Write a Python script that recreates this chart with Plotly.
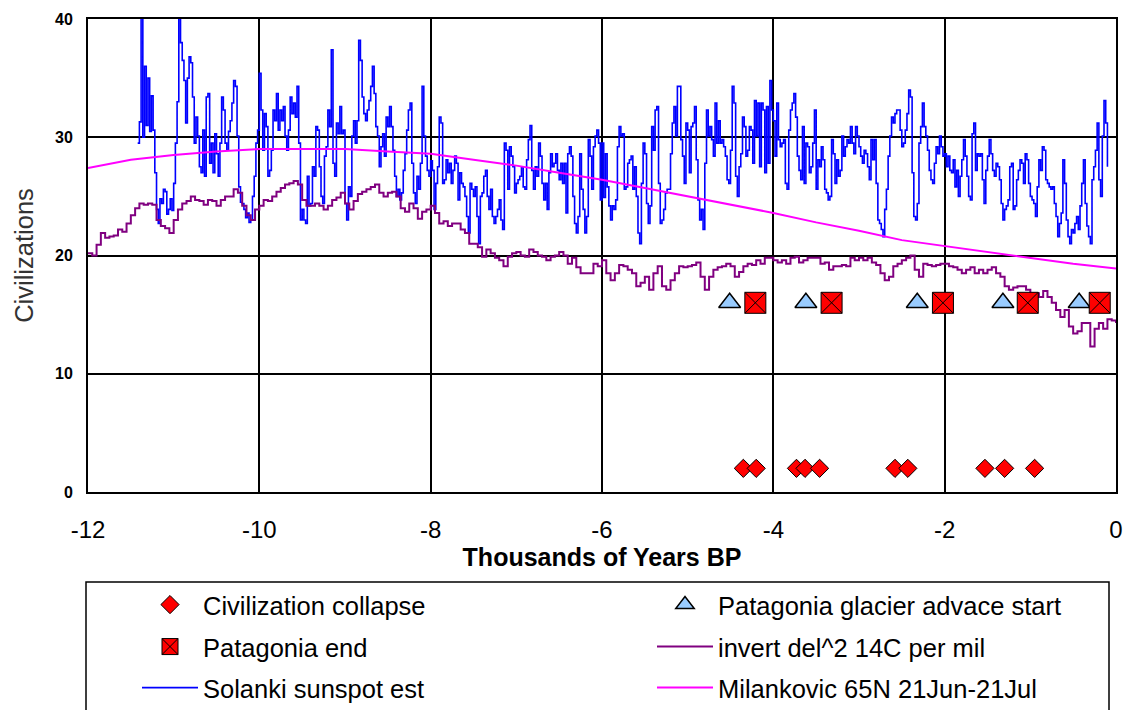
import plotly.graph_objects as go

# ---------------- data ----------------
# Solanki sunspot estimate (20-year spacing, thousands of years BP)
solanki_start = -11.42
solanki_step = 0.02
solanki_values = [
    29.5, 31.3, 40.5, 30.0, 36.0, 31.0, 35.0, 30.5, 33.5, 30.6,
    27.0, 23.9, 22.7, 24.8, 24.4, 25.6, 25.4, 23.5, 23.9, 24.8,
    23.8, 26.1, 29.5, 33.0, 40.6, 38.0, 36.5, 34.8, 31.2, 35.0,
    36.8, 36.3, 33.4, 29.5, 31.7, 30.1, 27.5, 27.0, 30.6, 26.7,
    33.4, 33.7, 27.8, 29.5, 27.0, 30.3, 28.6, 26.7, 29.5, 33.4,
    32.3, 29.5, 28.9, 30.5, 31.4, 32.9, 34.8, 34.3, 30.1, 25.8,
    24.5, 24.4, 23.9, 23.2, 23.6, 22.8, 23.0, 25.0, 26.7, 29.5,
    30.6,
    35.4, 32.3, 28.9, 32.0, 30.9, 26.7, 27.2, 28.9, 32.3, 31.4,
    33.7, 30.6, 32.3, 31.4, 32.6, 30.1, 28.9, 30.6, 33.4, 32.0,
    32.9, 31.7, 34.3, 29.5, 23.0, 23.9, 23.0, 22.7, 26.7, 24.2,
    24.4, 27.5, 26.7, 30.9, 30.6, 27.5, 25.0, 24.4, 28.4, 29.2,
    32.3, 30.9, 37.4, 27.8, 26.7, 31.2, 30.3, 32.6, 30.3, 30.6,
    24.4, 23.0, 25.8, 25.0, 30.1, 31.4, 29.5, 31.4, 38.2, 36.5,
    33.4, 32.0, 31.4, 32.3, 33.1, 34.3, 36.0, 33.7, 30.9, 30.1,
    27.5, 29.2, 30.3, 28.4, 31.7, 30.9, 32.6, 30.9, 28.9, 26.7,
    25.0, 25.6, 24.7, 25.3, 27.2, 28.6, 30.6, 32.3, 32.9, 27.8,
    25.3, 24.4, 26.7, 25.6, 27.8, 34.3, 30.1, 28.4, 27.2, 26.7,
    28.0, 27.2, 23.9, 26.1, 27.5, 31.7, 31.2, 26.1, 26.4, 28.1,
    27.0, 27.8, 26.1, 27.2, 28.4, 27.8, 24.7, 27.0, 26.1, 25.8,
    25.0, 23.3, 21.9, 26.1, 25.6, 25.0, 25.8, 23.3, 21.0, 25.0,
    25.3, 26.7, 27.2, 25.0, 23.9, 25.6, 23.3, 22.7, 23.3, 23.9,
    24.7, 23.0, 22.2, 29.5, 28.9, 25.6, 29.2, 28.4, 27.5, 25.3,
    26.1, 26.4, 26.7, 27.5, 25.8, 25.6, 28.1, 29.8, 31.0, 27.2,
    25.6, 27.5, 26.7, 29.5, 28.4, 26.1, 24.7, 26.1, 23.9, 27.0,
    28.6, 27.5, 27.8, 28.6, 27.2, 26.4, 27.8, 26.1, 27.8, 23.6,
    28.6, 29.2, 28.4, 25.0, 22.7, 21.9, 23.3, 28.6, 25.6, 23.9,
    21.9, 23.3, 29.8, 28.4, 25.6, 29.2, 30.1, 30.6, 29.5, 24.7,
    29.5, 24.9, 28.6, 25.8, 24.2, 23.0, 24.2, 23.9, 24.7, 29.2,
    30.9, 30.1, 30.3, 25.6, 25.8, 27.8, 28.1, 28.4, 25.6, 27.5,
    25.0, 21.9, 21.0, 26.1, 29.5, 28.6, 24.4, 22.7, 24.2, 30.9,
    28.9, 32.3, 32.6, 26.1, 22.7, 23.0, 23.9, 25.3, 25.6, 25.6,
    28.6, 31.2, 32.6, 30.1, 34.3, 34.3, 29.8, 28.4, 26.1, 31.2,
    30.6, 27.0, 30.9, 31.2, 32.6, 28.1, 24.7, 23.0, 23.9, 22.2,
    27.8, 32.3, 30.1, 30.9, 29.8, 28.4, 32.9, 29.5, 31.4, 29.5,
    29.8, 29.2, 28.4, 26.4, 26.1, 28.9, 34.3, 32.9, 26.7, 25.0,
    27.5, 28.6, 31.7, 30.9, 28.4, 28.9, 30.9, 30.6, 27.8, 33.1,
    30.1, 32.9, 27.5, 32.9, 32.3, 27.0, 32.6, 27.8, 34.8, 32.3,
    31.4, 28.4, 32.9, 29.8, 29.2, 29.5, 29.8, 26.1, 25.6, 30.6,
    32.3, 32.9, 33.7, 31.7, 28.4, 27.2, 26.4, 30.9, 26.1, 29.5,
    29.2, 27.0, 27.5, 29.5, 32.3, 25.6, 28.1, 27.5, 29.2, 28.1,
    25.6, 25.3, 24.7, 25.0, 29.8, 28.6, 26.1, 28.1, 26.7, 27.2,
    30.1, 28.4, 29.2, 29.8, 29.5, 30.9, 29.5, 28.6, 30.9, 30.1,
    29.2, 28.4, 27.8, 28.9, 28.6, 27.5, 26.4, 29.8, 28.1, 29.8,
    26.1, 23.0, 22.7, 22.2, 21.6, 23.9, 25.6, 28.4, 30.1, 31.7,
    31.2, 32.0, 32.3, 32.3, 30.6, 29.2, 29.5, 30.6, 32.0, 34.0,
    33.4, 27.0, 23.3, 23.0, 24.4, 29.5, 30.9, 32.9, 30.9, 30.1,
    28.9, 27.2, 26.4, 26.1, 27.8, 29.2, 28.6, 30.1, 29.2, 28.4,
    28.6, 27.5, 28.4, 27.2, 27.0, 28.1, 25.8, 27.2, 25.0, 26.7,
    28.1, 29.8, 28.4, 26.7, 25.0, 24.7, 30.3, 31.2, 27.2, 28.6,
    28.4, 28.6, 26.4, 24.4, 27.2, 28.4, 29.8, 28.6, 27.2, 26.7,
    27.8, 27.5, 26.4, 24.4, 23.0, 23.9, 24.2, 24.7, 27.5, 27.8,
    23.9, 24.2, 26.4, 27.2, 28.1, 27.8, 26.1, 28.6, 28.1, 26.1,
    25.0, 24.7, 24.4, 23.3, 25.8, 28.1, 27.2, 29.2, 28.9, 26.4,
    26.1, 25.8, 25.6, 25.8, 24.4, 23.3, 21.6, 22.7, 23.6, 28.1,
    26.1, 23.0, 21.6, 21.0, 22.2, 21.9, 22.7, 23.3, 22.2, 24.2,
    26.1, 28.1, 24.4, 22.5, 21.6, 21.0, 26.4, 27.5, 28.9, 31.2,
    26.4, 25.0, 30.1, 33.1, 31.2, 27.5,
]
solanki_years = [solanki_start + solanki_step * i for i in range(len(solanki_values))]

# invert del^2 14C per mil (50-year spacing)
c14_start = -12.0
c14_step = 0.05
c14_values = [
    20.2, 20.0, 20.9, 21.9, 21.5, 21.6, 21.7, 22.2, 22.0, 22.7,
    23.4, 24.0, 24.4, 24.3, 24.4, 24.3, 23.0, 22.5, 22.3, 21.9,
    23.0, 23.9, 24.4, 24.6, 25.0, 24.7, 24.6, 24.3, 24.7, 24.6,
    24.2, 24.7, 25.0, 25.0, 25.6, 25.3, 24.2, 23.4, 23.0, 23.9,
    24.2, 24.7, 24.6, 25.0, 25.4, 25.7, 26.0, 26.1, 26.3, 26.0,
    24.7, 24.2, 24.2, 24.4, 24.2, 23.9, 24.2, 24.7, 24.9, 25.3,
    24.4, 23.9, 24.6, 25.2, 25.4, 25.6, 25.8, 26.0, 25.3, 25.0,
    25.3, 25.4, 25.0, 24.0, 23.7, 24.4, 24.0, 23.1, 23.7, 23.9,
    24.2, 23.6, 22.7, 22.9, 22.5, 22.7, 22.7, 22.2, 21.9, 21.0,
    21.0, 20.7, 19.9, 20.5, 20.2, 19.8, 19.6, 19.1, 19.9, 20.2,
    20.3, 20.0, 19.9, 20.5, 20.3, 20.0, 19.9, 19.6, 19.9, 20.0,
    20.3, 20.0, 19.3, 19.8, 19.0, 18.5, 18.5, 18.5, 19.3, 19.1,
    19.6, 18.5, 17.9, 18.5, 19.2, 19.1, 18.8, 18.5, 17.4, 17.7,
    18.2, 17.1, 18.5, 19.1, 17.4, 17.1, 17.9, 18.5, 19.1, 19.0,
    19.1, 19.2, 19.4, 18.2, 17.1, 18.2, 18.8, 19.0, 19.1, 19.3,
    19.1, 18.2, 18.6, 19.1, 19.3, 19.2, 19.6, 19.3, 19.8, 19.8,
    19.6, 19.4, 19.6, 19.3, 19.8, 19.9, 19.4, 19.6, 19.8, 19.8,
    19.8, 19.3, 19.4, 18.8, 19.1, 19.1, 19.2, 19.1, 19.8, 19.6,
    19.8, 19.6, 19.8, 19.4, 19.2, 18.5, 17.9, 18.2, 19.1, 19.3,
    19.6, 19.8, 20.0, 18.8, 18.2, 19.3, 19.2, 19.1, 19.2, 19.3,
    19.3, 19.1, 19.0, 18.8, 18.5, 18.8, 19.0, 18.5, 18.8, 18.5,
    18.8, 19.0, 18.5, 18.2, 17.4, 17.1, 17.3, 17.4, 17.4, 17.1,
    16.8, 16.8, 16.5, 17.0, 16.5, 16.0, 15.4, 14.8, 15.4, 14.0,
    13.4, 13.6, 14.3, 14.3, 12.3, 13.8, 14.3, 13.8, 14.6, 14.5,
    14.3,
]
c14_years = [c14_start + c14_step * i for i in range(len(c14_values))]

# Milankovic 65N 21Jun-21Jul (scaled)
milank_years = [-12.0, -11.5, -11.0, -10.5, -10.0, -9.5, -9.0, -8.5, -8.0, -7.5,
                -7.0, -6.5, -6.0, -5.5, -5.0, -4.5, -4.0, -3.5, -3.0, -2.5,
                -2.0, -1.5, -1.0, -0.5, 0.0]
milank_values = [27.4, 28.1, 28.5, 28.8, 29.0, 29.0, 29.0, 28.8, 28.6, 28.1,
                 27.6, 27.0, 26.4, 25.7, 25.0, 24.3, 23.6, 22.8, 22.1, 21.3,
                 20.8, 20.3, 19.8, 19.3, 18.9]

collapse_years = [-4.35, -4.20, -3.73, -3.63, -3.46, -2.58, -2.43, -1.53, -1.30, -0.95]
collapse_values = [2] * len(collapse_years)

glacier_start_years = [-4.51, -3.62, -2.32, -1.32, -0.43]
glacier_start_values = [16] * len(glacier_start_years)

patagonia_end_years = [-4.21, -3.32, -2.02, -1.03, -0.19]
patagonia_end_values = [16] * len(patagonia_end_years)

x_ticks = [-12, -10, -8, -6, -4, -2, 0]
y_ticks = [0, 10, 20, 30, 40]

# ---------------- figure ----------------
FONT = "Liberation Sans, Arial, sans-serif"
W, H = 1123, 710
L, T = 88, 19
R = W - 1116
B = H - 492
PW, PH = W - L - R, H - T - B


def px_x(px):
    """page pixel -> paper x"""
    return (px - L) / PW


def px_y(py):
    """page pixel -> paper y"""
    return 1 - (py - T) / PH


fig = go.Figure()

fig.add_trace(go.Scatter(
    x=solanki_years, y=solanki_values, mode="lines", name="Solanki sunspot est",
    line=dict(color="#0000ff", width=1.6, shape="hv"), legend="legend3", legendrank=1))
fig.add_trace(go.Scatter(
    x=c14_years, y=c14_values, mode="lines", name="invert del^2 14C per mil",
    line=dict(color="#800080", width=2, shape="hv"), legend="legend2", legendrank=2))
fig.add_trace(go.Scatter(
    x=milank_years, y=milank_values, mode="lines", name="Milankovic 65N 21Jun-21Jul",
    line=dict(color="#ff00ff", width=2), legend="legend3", legendrank=2))
fig.add_trace(go.Scatter(
    x=collapse_years, y=collapse_values, mode="markers", name="Civilization collapse",
    marker=dict(symbol="diamond", size=14, color="#ff0000", line=dict(color="#000000", width=1)),
    legend="legend", legendrank=1))
fig.add_trace(go.Scatter(
    x=glacier_start_years, y=glacier_start_values, mode="markers",
    name="Patagonia glacier advace start",
    marker=dict(symbol="triangle-up", size=19, color="#99ccff", line=dict(color="#000000", width=1.5)),
    legend="legend", legendrank=2))
fig.add_trace(go.Scatter(
    x=patagonia_end_years, y=patagonia_end_values, mode="markers", name="Patagonia end",
    marker=dict(symbol="square-x", size=21, color="#ff0000", line=dict(color="#000000", width=1)),
    legend="legend2", legendrank=1))

leg_common = dict(orientation="h", x=px_x(137), xanchor="left", yanchor="middle",
                  font=dict(family=FONT, size=25.5, color="#000000"),
                  itemwidth=56, entrywidth=444, entrywidthmode="pixels",
                  bgcolor="rgba(0,0,0,0)", borderwidth=0, traceorder="normal")

fig.update_layout(
    width=W, height=H,
    margin=dict(l=L, r=R, t=T, b=B, autoexpand=False),
    paper_bgcolor="white", plot_bgcolor="white",
    font=dict(family=FONT, color="#000000"),
    legend=dict(y=px_y(605), **leg_common),
    legend2=dict(y=px_y(647), **leg_common),
    legend3=dict(y=px_y(688), **leg_common),
    xaxis=dict(range=[-12, 0], tickvals=x_ticks, ticktext=[str(v) for v in x_ticks],
               showgrid=True, gridcolor="#000000", gridwidth=2, zeroline=False,
               showline=True, mirror=True, linecolor="#000000", linewidth=2,
               ticks="", ticklabelstandoff=15, ticklabeloverflow="allow",
               tickfont=dict(family=FONT, size=24, color="#000000"),
               title=dict(text="Thousands of Years BP", standoff=4,
                          font=dict(family=FONT, size=25, color="#000000", weight="bold"))),
    yaxis=dict(range=[0, 40], tickvals=y_ticks,
               showgrid=True, gridcolor="#000000", gridwidth=2, zeroline=False,
               showline=True, mirror=True, linecolor="#000000", linewidth=2,
               ticks="", ticklabelstandoff=10,
               tickfont=dict(family=FONT, size=16, color="#000000", weight="bold"),
               title=dict(text="Civilizations", standoff=14,
                          font=dict(family=FONT, size=25.5, color="#333333"))),
    shapes=[dict(type="rect", xref="paper", yref="paper",
                 x0=px_x(86), x1=px_x(1109), y0=px_y(582), y1=px_y(716),
                 line=dict(color="#000000", width=1.5), fillcolor="rgba(0,0,0,0)")],
    showlegend=True,
)

fig.write_html(
    "out.html",
    config={"displayModeBar": False},
    post_script="document.body.style.margin='0';document.body.style.overflow='hidden';",
)
